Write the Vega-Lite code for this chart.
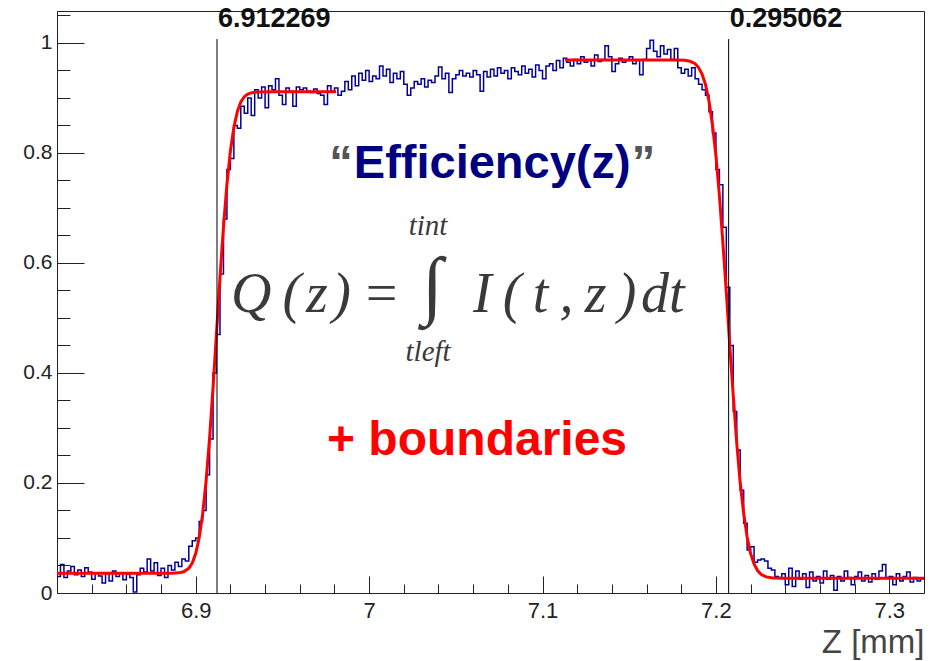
{
  "$schema": "https://vega.github.io/schema/vega-lite/v6.json",
  "width": 867,
  "height": 582,
  "autosize": {"type": "none"},
  "padding": {"left": 57, "top": 11, "right": 14, "bottom": 68},
  "background": "white",
  "config": {
    "view": {"stroke": "#222", "strokeWidth": 1},
    "axis": {"grid": false, "labelFont": "Liberation Sans", "titleFont": "Liberation Sans", "domainColor": "#222", "tickColor": "#222", "labelColor": "#222", "tickWidth": 1, "domainWidth": 1}
  },
  "datasets": {
    "hist": [
      {"z":6.820,"v":0.030},{"z":6.822,"v":0.052},{"z":6.824,"v":0.028},{"z":6.826,"v":0.040},{"z":6.828,"v":0.048},
      {"z":6.830,"v":0.033},{"z":6.832,"v":0.042},{"z":6.834,"v":0.030},{"z":6.836,"v":0.046},{"z":6.838,"v":0.038},
      {"z":6.840,"v":0.025},{"z":6.842,"v":0.036},{"z":6.844,"v":0.031},{"z":6.846,"v":0.018},{"z":6.848,"v":0.035},
      {"z":6.850,"v":0.022},{"z":6.852,"v":0.040},{"z":6.854,"v":0.030},{"z":6.856,"v":0.037},{"z":6.858,"v":0.024},
      {"z":6.860,"v":0.034},{"z":6.862,"v":0.028},{"z":6.864,"v":0.002},{"z":6.866,"v":0.033},{"z":6.868,"v":0.045},
      {"z":6.870,"v":0.038},{"z":6.872,"v":0.062},{"z":6.874,"v":0.040},{"z":6.876,"v":0.055},{"z":6.878,"v":0.032},
      {"z":6.880,"v":0.045},{"z":6.882,"v":0.028},{"z":6.884,"v":0.050},{"z":6.886,"v":0.042},{"z":6.888,"v":0.056},
      {"z":6.890,"v":0.048},{"z":6.892,"v":0.062},{"z":6.894,"v":0.058},{"z":6.896,"v":0.085},{"z":6.898,"v":0.095},
      {"z":6.900,"v":0.100},{"z":6.902,"v":0.130},{"z":6.904,"v":0.150},{"z":6.906,"v":0.215},{"z":6.908,"v":0.280},
      {"z":6.910,"v":0.400},{"z":6.912,"v":0.470},{"z":6.914,"v":0.580},{"z":6.916,"v":0.680},{"z":6.918,"v":0.770},
      {"z":6.920,"v":0.790},{"z":6.922,"v":0.850},{"z":6.924,"v":0.845},{"z":6.926,"v":0.885},{"z":6.928,"v":0.872},
      {"z":6.930,"v":0.900},{"z":6.932,"v":0.868},{"z":6.934,"v":0.915},{"z":6.936,"v":0.900},{"z":6.938,"v":0.920},
      {"z":6.940,"v":0.882},{"z":6.942,"v":0.922},{"z":6.944,"v":0.915},{"z":6.946,"v":0.935},{"z":6.948,"v":0.905},
      {"z":6.950,"v":0.888},{"z":6.952,"v":0.918},{"z":6.954,"v":0.912},{"z":6.956,"v":0.885},{"z":6.958,"v":0.920},
      {"z":6.960,"v":0.915},{"z":6.962,"v":0.918},{"z":6.964,"v":0.912},{"z":6.966,"v":0.910},{"z":6.968,"v":0.916},
      {"z":6.970,"v":0.908},{"z":6.972,"v":0.905},{"z":6.974,"v":0.888},{"z":6.976,"v":0.922},{"z":6.978,"v":0.912},
      {"z":6.980,"v":0.918},{"z":6.982,"v":0.905},{"z":6.984,"v":0.912},{"z":6.986,"v":0.930},{"z":6.988,"v":0.915},
      {"z":6.990,"v":0.940},{"z":6.992,"v":0.922},{"z":6.994,"v":0.945},{"z":6.996,"v":0.932},{"z":6.998,"v":0.950},
      {"z":7.000,"v":0.930},{"z":7.002,"v":0.940},{"z":7.004,"v":0.935},{"z":7.006,"v":0.958},{"z":7.008,"v":0.940},
      {"z":7.010,"v":0.952},{"z":7.012,"v":0.928},{"z":7.014,"v":0.945},{"z":7.016,"v":0.935},{"z":7.018,"v":0.948},
      {"z":7.020,"v":0.925},{"z":7.022,"v":0.905},{"z":7.024,"v":0.918},{"z":7.026,"v":0.930},{"z":7.028,"v":0.925},
      {"z":7.030,"v":0.935},{"z":7.032,"v":0.920},{"z":7.034,"v":0.932},{"z":7.036,"v":0.928},{"z":7.038,"v":0.940},
      {"z":7.040,"v":0.956},{"z":7.042,"v":0.935},{"z":7.044,"v":0.945},{"z":7.046,"v":0.910},{"z":7.048,"v":0.935},
      {"z":7.050,"v":0.942},{"z":7.052,"v":0.950},{"z":7.054,"v":0.940},{"z":7.056,"v":0.945},{"z":7.058,"v":0.938},
      {"z":7.060,"v":0.950},{"z":7.062,"v":0.942},{"z":7.064,"v":0.912},{"z":7.066,"v":0.948},{"z":7.068,"v":0.938},
      {"z":7.070,"v":0.952},{"z":7.072,"v":0.940},{"z":7.074,"v":0.955},{"z":7.076,"v":0.945},{"z":7.078,"v":0.950},
      {"z":7.080,"v":0.935},{"z":7.082,"v":0.955},{"z":7.084,"v":0.948},{"z":7.086,"v":0.942},{"z":7.088,"v":0.958},
      {"z":7.090,"v":0.945},{"z":7.092,"v":0.952},{"z":7.094,"v":0.938},{"z":7.096,"v":0.960},{"z":7.098,"v":0.950},
      {"z":7.100,"v":0.935},{"z":7.102,"v":0.958},{"z":7.104,"v":0.962},{"z":7.106,"v":0.950},{"z":7.108,"v":0.968},
      {"z":7.110,"v":0.955},{"z":7.112,"v":0.972},{"z":7.114,"v":0.965},{"z":7.116,"v":0.958},{"z":7.118,"v":0.970},
      {"z":7.120,"v":0.962},{"z":7.122,"v":0.975},{"z":7.124,"v":0.965},{"z":7.126,"v":0.968},{"z":7.128,"v":0.958},
      {"z":7.130,"v":0.978},{"z":7.132,"v":0.966},{"z":7.134,"v":0.970},{"z":7.136,"v":0.995},{"z":7.138,"v":0.975},
      {"z":7.140,"v":0.948},{"z":7.142,"v":0.962},{"z":7.144,"v":0.972},{"z":7.146,"v":0.965},{"z":7.148,"v":0.968},
      {"z":7.150,"v":0.975},{"z":7.152,"v":0.962},{"z":7.154,"v":0.968},{"z":7.156,"v":0.942},{"z":7.158,"v":0.970},
      {"z":7.160,"v":0.990},{"z":7.162,"v":1.005},{"z":7.164,"v":0.985},{"z":7.166,"v":0.975},{"z":7.168,"v":0.995},
      {"z":7.170,"v":0.980},{"z":7.172,"v":0.988},{"z":7.174,"v":0.970},{"z":7.176,"v":0.990},{"z":7.178,"v":0.955},
      {"z":7.180,"v":0.945},{"z":7.182,"v":0.952},{"z":7.184,"v":0.940},{"z":7.186,"v":0.955},{"z":7.188,"v":0.935},
      {"z":7.190,"v":0.925},{"z":7.192,"v":0.915},{"z":7.194,"v":0.905},{"z":7.196,"v":0.875},{"z":7.198,"v":0.836},
      {"z":7.200,"v":0.770},{"z":7.202,"v":0.742},{"z":7.204,"v":0.665},{"z":7.206,"v":0.556},{"z":7.208,"v":0.450},
      {"z":7.210,"v":0.330},{"z":7.212,"v":0.260},{"z":7.214,"v":0.187},{"z":7.216,"v":0.127},{"z":7.218,"v":0.078},
      {"z":7.220,"v":0.084},{"z":7.222,"v":0.056},{"z":7.224,"v":0.060},{"z":7.226,"v":0.062},{"z":7.228,"v":0.058},
      {"z":7.230,"v":0.045},{"z":7.232,"v":0.042},{"z":7.234,"v":0.030},{"z":7.236,"v":0.028},{"z":7.238,"v":0.035},
      {"z":7.240,"v":0.015},{"z":7.242,"v":0.045},{"z":7.244,"v":0.012},{"z":7.246,"v":0.040},{"z":7.248,"v":0.025},
      {"z":7.250,"v":0.035},{"z":7.252,"v":0.010},{"z":7.254,"v":0.038},{"z":7.256,"v":0.022},{"z":7.258,"v":0.030},
      {"z":7.260,"v":0.018},{"z":7.262,"v":0.040},{"z":7.264,"v":0.025},{"z":7.266,"v":0.032},{"z":7.268,"v":0.005},
      {"z":7.270,"v":0.030},{"z":7.272,"v":0.022},{"z":7.274,"v":0.040},{"z":7.276,"v":0.028},{"z":7.278,"v":0.015},
      {"z":7.280,"v":0.030},{"z":7.282,"v":0.038},{"z":7.284,"v":0.022},{"z":7.286,"v":0.032},{"z":7.288,"v":0.020},
      {"z":7.290,"v":0.035},{"z":7.292,"v":0.025},{"z":7.294,"v":0.040},{"z":7.296,"v":0.052},{"z":7.298,"v":0.028},
      {"z":7.300,"v":0.030},{"z":7.302,"v":0.015},{"z":7.304,"v":0.035},{"z":7.306,"v":0.022},{"z":7.308,"v":0.030},
      {"z":7.310,"v":0.038},{"z":7.312,"v":0.020},{"z":7.314,"v":0.028},{"z":7.316,"v":0.022},{"z":7.318,"v":0.026},
      {"z":7.320,"v":0.026}
    ],
    "fitL": [
      {"z":6.820,"v":0.036},{"z":6.880,"v":0.036},{"z":6.886,"v":0.0361},{"z":6.890,"v":0.0366},{"z":6.893,"v":0.0386},
      {"z":6.896,"v":0.0449},{"z":6.898,"v":0.0546},{"z":6.900,"v":0.0718},{"z":6.902,"v":0.1003},{"z":6.904,"v":0.1436},
      {"z":6.906,"v":0.2042},{"z":6.908,"v":0.2819},{"z":6.910,"v":0.3737},{"z":6.912,"v":0.4735},{"z":6.914,"v":0.5733},
      {"z":6.916,"v":0.6651},{"z":6.918,"v":0.7428},{"z":6.920,"v":0.8034},{"z":6.922,"v":0.8467},{"z":6.924,"v":0.8752},
      {"z":6.926,"v":0.8925},{"z":6.928,"v":0.9021},{"z":6.930,"v":0.9071},{"z":6.933,"v":0.9100},{"z":6.937,"v":0.9109},
      {"z":6.945,"v":0.911},{"z":6.981,"v":0.911}
    ],
    "fitR": [
      {"z":7.113,"v":0.969},{"z":7.170,"v":0.969},{"z":7.178,"v":0.9689},{"z":7.182,"v":0.9684},{"z":7.185,"v":0.9667},
      {"z":7.188,"v":0.9621},{"z":7.190,"v":0.9552},{"z":7.192,"v":0.9432},{"z":7.194,"v":0.9243},{"z":7.196,"v":0.8943},
      {"z":7.198,"v":0.8511},{"z":7.200,"v":0.7956},{"z":7.202,"v":0.7230},{"z":7.204,"v":0.6374},{"z":7.206,"v":0.5467},
      {"z":7.208,"v":0.4493},{"z":7.210,"v":0.3586},{"z":7.212,"v":0.2730},{"z":7.214,"v":0.2004},{"z":7.216,"v":0.1448},
      {"z":7.218,"v":0.1017},{"z":7.220,"v":0.0717},{"z":7.222,"v":0.0528},{"z":7.224,"v":0.0408},{"z":7.226,"v":0.0339},
      {"z":7.229,"v":0.0293},{"z":7.233,"v":0.0274},{"z":7.240,"v":0.027},{"z":7.320,"v":0.027}
    ],
    "bounds": [
      {"z":6.912269,"label":"6.912269"},
      {"z":7.207331,"label":"0.295062"}
    ]
  },
  "resolve": {"axis": {"x": "independent", "y": "independent"}},
  "layer": [
    {
      "data": {"name": "hist"},
      "mark": {"type": "line", "interpolate": "step-after", "color": "#000099", "strokeWidth": 1.5},
      "encoding": {
        "x": {"field": "z", "type": "quantitative",
          "scale": {"domain": [6.82, 7.32], "nice": false, "zero": false},
          "axis": {"orient": "bottom", "values": [6.9, 7, 7.1, 7.2, 7.3], "format": "~g", "tickSize": -17, "labelPadding": 24, "labelFontSize": 22,
            "title": "Z [mm]", "titleFontSize": 33, "titleFontWeight": "normal", "titleColor": "#444", "titleAnchor": "end", "titleAlign": "right", "titleBaseline": "alphabetic", "titleX": 867, "titleY": 59}},
        "y": {"field": "v", "type": "quantitative",
          "scale": {"domain": [0, 1.058], "nice": false, "zero": false},
          "axis": {"orient": "left", "values": [0, 0.2, 0.4, 0.6, 0.8, 1], "format": "~g", "tickSize": -27, "labelPadding": 32, "labelFontSize": 21, "title": null}}
      }
    },
    {
      "data": {"name": "fitL"},
      "mark": {"type": "line", "color": "#ff0000", "strokeWidth": 3},
      "encoding": {
        "x": {"field": "z", "type": "quantitative",
          "axis": {"orient": "bottom", "values": [6.84, 6.86, 6.88, 6.92, 6.94, 6.96, 6.98, 7.02, 7.04, 7.06, 7.08, 7.12, 7.14, 7.16, 7.18, 7.22, 7.24, 7.26, 7.28], "labels": false, "domain": false, "tickSize": -9, "title": null}},
        "y": {"field": "v", "type": "quantitative",
          "axis": {"orient": "left", "values": [0.05, 0.1, 0.15, 0.25, 0.3, 0.35, 0.45, 0.5, 0.55, 0.65, 0.7, 0.75, 0.85, 0.9, 0.95, 1.05], "labels": false, "domain": false, "tickSize": -13, "title": null}}
      }
    },
    {
      "data": {"name": "fitR"},
      "mark": {"type": "line", "color": "#ff0000", "strokeWidth": 3},
      "encoding": {
        "x": {"field": "z", "type": "quantitative", "axis": null},
        "y": {"field": "v", "type": "quantitative", "axis": null}
      }
    },
    {
      "data": {"name": "bounds"},
      "mark": {"type": "rule", "color": "#000", "strokeWidth": 1},
      "encoding": {
        "x": {"field": "z", "type": "quantitative", "axis": null},
        "y": {"datum": 0, "type": "quantitative", "axis": null},
        "y2": {"datum": 1.007}
      }
    },
    {
      "data": {"name": "bounds"},
      "mark": {"type": "text", "align": "left", "baseline": "alphabetic", "dx": 1, "font": "Liberation Sans", "fontWeight": "bold", "fontSize": 27, "color": "#111"},
      "encoding": {
        "x": {"field": "z", "type": "quantitative", "axis": null},
        "y": {"datum": 1.029, "type": "quantitative", "axis": null},
        "text": {"field": "label"}
      }
    },
    {
      "data": {"values": [{}]},
      "mark": {"type": "text", "text": "\u201c", "align": "right", "baseline": "alphabetic", "font": "Liberation Sans", "fontWeight": "bold", "fontSize": 47, "color": "#555"},
      "encoding": {
        "x": {"datum": 6.9905, "type": "quantitative", "axis": null},
        "y": {"datum": 0.7544, "type": "quantitative", "axis": null}
      }
    },
    {
      "data": {"values": [{}]},
      "mark": {"type": "text", "text": "Efficiency(z)", "align": "center", "baseline": "alphabetic", "font": "Liberation Sans", "fontWeight": "bold", "fontSize": 47, "color": "#000080"},
      "encoding": {
        "x": {"datum": 7.0710, "type": "quantitative", "axis": null},
        "y": {"datum": 0.7544, "type": "quantitative", "axis": null}
      }
    },
    {
      "data": {"values": [{}]},
      "mark": {"type": "text", "text": "\u201d", "align": "left", "baseline": "alphabetic", "font": "Liberation Sans", "fontWeight": "bold", "fontSize": 47, "color": "#555"},
      "encoding": {
        "x": {"datum": 7.1515, "type": "quantitative", "axis": null},
        "y": {"datum": 0.7544, "type": "quantitative", "axis": null}
      }
    },
    {
      "data": {"values": [{}]},
      "mark": {"type": "text", "text": "Q\u2009(\u200az\u200a)\u2009=", "align": "left", "baseline": "alphabetic", "font": "Liberation Serif", "fontStyle": "italic", "fontSize": 56, "color": "#3a3a3a"},
      "encoding": {
        "x": {"datum": 6.9203, "type": "quantitative", "axis": null},
        "y": {"datum": 0.5108, "type": "quantitative", "axis": null}
      }
    },
    {
      "data": {"values": [{}]},
      "mark": {"type": "text", "text": "\u222b", "align": "center", "baseline": "alphabetic", "font": "Liberation Serif", "fontSize": 76, "color": "#3a3a3a"},
      "encoding": {
        "x": {"datum": 7.0365, "type": "quantitative", "axis": null},
        "y": {"datum": 0.5144, "type": "quantitative", "axis": null}
      }
    },
    {
      "data": {"values": [{}]},
      "mark": {"type": "text", "text": "I\u2009(\u2009t\u2009,\u2009z\u2009)\u200adt", "align": "left", "baseline": "alphabetic", "font": "Liberation Serif", "fontStyle": "italic", "fontSize": 56, "color": "#3a3a3a"},
      "encoding": {
        "x": {"datum": 7.0599, "type": "quantitative", "axis": null},
        "y": {"datum": 0.5108, "type": "quantitative", "axis": null}
      }
    },
    {
      "data": {"values": [{}]},
      "mark": {"type": "text", "text": "tint", "align": "center", "baseline": "alphabetic", "font": "Liberation Serif", "fontStyle": "italic", "fontSize": 29, "color": "#3a3a3a"},
      "encoding": {
        "x": {"datum": 7.0340, "type": "quantitative", "axis": null},
        "y": {"datum": 0.6509, "type": "quantitative", "axis": null}
      }
    },
    {
      "data": {"values": [{}]},
      "mark": {"type": "text", "text": "tleft", "align": "center", "baseline": "alphabetic", "font": "Liberation Serif", "fontStyle": "italic", "fontSize": 29, "color": "#3a3a3a"},
      "encoding": {
        "x": {"datum": 7.0340, "type": "quantitative", "axis": null},
        "y": {"datum": 0.4218, "type": "quantitative", "axis": null}
      }
    },
    {
      "data": {"values": [{}]},
      "mark": {"type": "text", "text": "+ boundaries", "align": "left", "baseline": "alphabetic", "font": "Liberation Sans", "fontWeight": "bold", "fontSize": 48, "color": "#ff0000"},
      "encoding": {
        "x": {"datum": 6.9757, "type": "quantitative", "axis": null},
        "y": {"datum": 0.2509, "type": "quantitative", "axis": null}
      }
    }
  ]
}
